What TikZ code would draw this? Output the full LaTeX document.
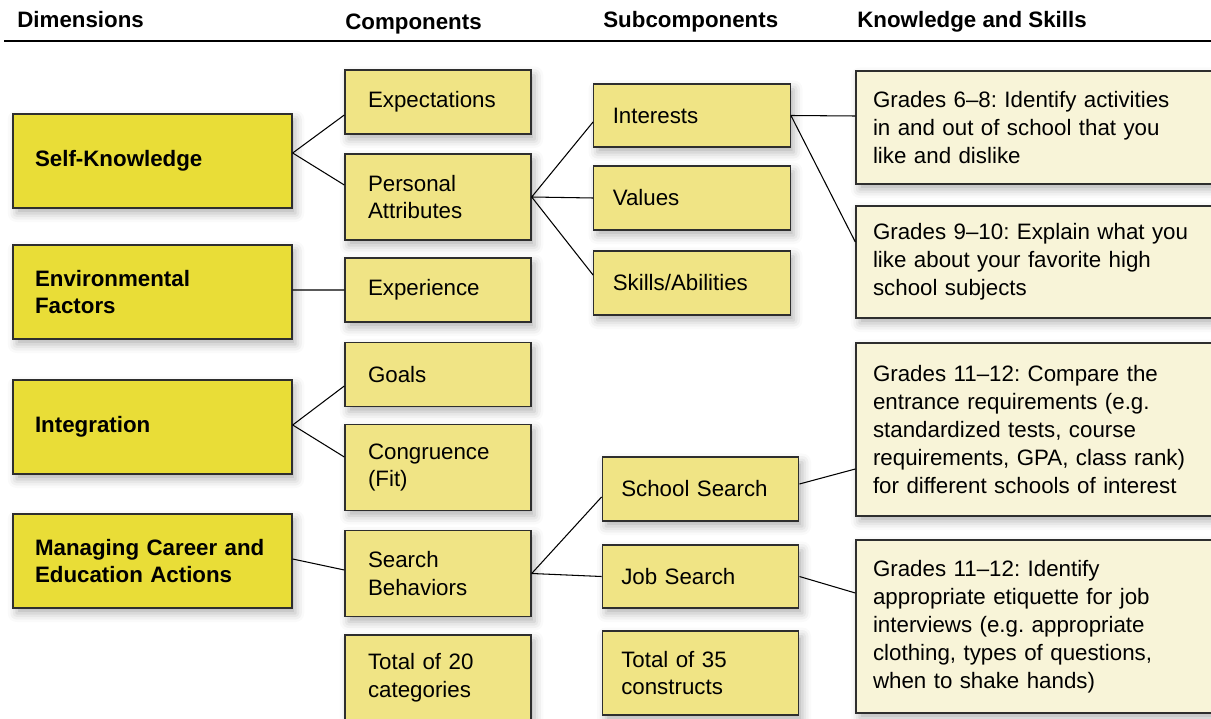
\documentclass[tikz,border=0pt]{standalone}
\usepackage{fontspec}
\setmainfont{Liberation Sans}
\usetikzlibrary{shadows.blur}
\definecolor{jaunefonce}{HTML}{E9DD37}
\definecolor{jaunemoyen}{HTML}{F0E485}
\definecolor{jaunepale}{HTML}{F8F4D8}
\definecolor{bord}{HTML}{2E2E2E}
\frenchspacing

\begin{document}
\begin{tikzpicture}[x=0.02cm, y=-0.02cm]
\tikzset{boite/.style={draw=bord, line width=0.8pt, align=left, font=\fontsize{12.7}{15.9}\selectfont,
    blur shadow={shadow xshift=2pt, shadow yshift=-3pt, shadow blur radius=5pt, shadow opacity=30}},
  dimnoeud/.style={boite, fill=jaunefonce, text width=4.70cm, inner xsep=0.44cm, font=\fontsize{12.7}{15.9}\selectfont\bfseries},
  compnoeud/.style={boite, fill=jaunemoyen, text width=2.80cm, inner xsep=0.46cm},
  souscomp/.style={boite, fill=jaunemoyen, text width=3.17cm, inner xsep=0.38cm},
  savoir/.style={boite, fill=jaunepale, text width=6.50cm, inner xsep=0.34cm},
  titre/.style={anchor=base west, inner sep=0pt, font=\fontsize{12.7}{15.9}\selectfont\bfseries},
  lien/.style={draw=black, line width=0.6pt}}
\clip (0,0) rectangle (1211,719);
% en-tetes
\node[titre] (T1) at (17,28) {Dimensions};
\node[titre] (T2) at (345,30) {Components};
\node[titre] (T3) at (603,28) {Subcomponents};
\node[titre] (T4) at (857,28) {Knowledge and Skills};
\draw[line width=1.1pt] (4,41) -- (1211,41);
% dimensions
\node[dimnoeud, minimum height=1.88cm] (SK) at (152.5,161) {Self-Knowledge};
\node[dimnoeud, minimum height=1.88cm] (EF) at (152.5,292) {Environmental\\Factors};
\node[dimnoeud, minimum height=1.88cm] (IN) at (152.5,427) {Integration};
\node[dimnoeud, minimum height=1.88cm] (MC) at (152.5,561) {Managing Career and\\Education Actions};
% composantes
\node[compnoeud, minimum height=1.28cm] (C1) at (438,102) {Expectations};
\node[compnoeud, minimum height=1.72cm] (C2) at (438,197) {Personal\\Attributes};
\node[compnoeud, minimum height=1.28cm] (C3) at (438,290) {Experience};
\node[compnoeud, minimum height=1.28cm] (C4) at (438,374.5) {Goals};
\node[compnoeud, minimum height=1.72cm] (C5) at (438,467.5) {Congruence\\(Fit)};
\node[compnoeud, minimum height=1.72cm] (C6) at (438,573.5) {Search\\Behaviors};
\node[compnoeud, minimum height=1.72cm] (C7) at (438,678) {Total of 20\\categories};
% sous-composantes
\node[souscomp, minimum height=1.26cm] (S1) at (692,115.5) {Interests};
\node[souscomp, minimum height=1.28cm] (S2) at (692,198) {Values};
\node[souscomp, minimum height=1.28cm] (S3) at (692,283) {Skills/Abilities};
\node[souscomp, minimum height=1.28cm] (S4) at (700.5,489) {School Search};
\node[souscomp, minimum height=1.26cm] (S5) at (700.5,576.5) {Job Search};
\node[souscomp, minimum height=1.68cm] (S6) at (700.5,673) {Total of 35\\constructs};
% savoirs
\node[savoir, minimum height=2.26cm] (K1) at (1035.5,127.5) {Grades 6--8: Identify activities\\in and out of school that you\\like and dislike};
\node[savoir, minimum height=2.24cm] (K2) at (1035.5,262) {Grades 9--10: Explain what you\\like about your favorite high\\school subjects};
\node[savoir, minimum height=3.46cm] (K3) at (1035.5,429.5) {Grades 11--12: Compare the\\entrance requirements (e.g.\\standardized tests, course\\requirements, GPA, class rank)\\for different schools of interest};
\node[savoir, minimum height=3.46cm] (K4) at (1035.5,626.5) {Grades 11--12: Identify\\appropriate etiquette for job\\interviews (e.g. appropriate\\clothing, types of questions,\\when to shake hands)};
% liens
\draw[lien] ([yshift=0.16cm]SK.east) -- ([yshift=-0.26cm]C1.west);
\draw[lien] ([yshift=0.16cm]SK.east) -- ([yshift=0.24cm]C2.west);
\draw[lien] ([yshift=0.04cm]EF.east) -- (C3.west);
\draw[lien] ([yshift=0.04cm]IN.east) -- ([yshift=-0.23cm]C4.west);
\draw[lien] ([yshift=0.04cm]IN.east) -- ([yshift=0.21cm]C5.west);
\draw[lien] ([yshift=0.04cm]MC.east) -- ([yshift=0.07cm]C6.west);
\draw[lien] (C2.east) -- ([yshift=-0.13cm]S1.west);
\draw[lien] (C2.east) -- (S2.west);
\draw[lien] (C2.east) -- ([yshift=0.16cm]S3.west);
\draw[lien] (S1.east) -- ([yshift=0.23cm]K1.west);
\draw[lien] (S1.east) -- ([yshift=0.40cm]K2.west);
\draw[lien] (C6.east) -- ([yshift=-0.16cm]S4.west);
\draw[lien] (C6.east) -- (S5.west);
\draw[lien] ([yshift=0.10cm]S4.east) -- ([yshift=-0.79cm]K3.west);
\draw[lien] (S5.east) -- ([yshift=0.67cm]K4.west);
\end{tikzpicture}
\end{document}
